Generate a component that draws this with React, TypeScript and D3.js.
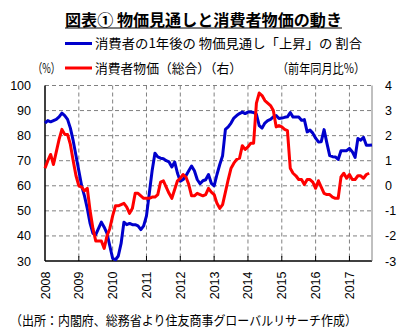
import React from "react";
import * as d3 from "d3";

const years = ["2008", "2009", "2010", "2011", "2012", "2013", "2014", "2015", "2016", "2017"];
const leftTicks = [30, 40, 50, 60, 70, 80, 90, 100];
const rightTicks = [-3, -2, -1, 0, 1, 2, 3, 4];

// 消費者の1年後の物価見通し「上昇」の割合 (%), monthly from 2008-01
const expectation = [
  85, 86, 85.5, 86, 86.5, 87.5, 89, 88, 86.5, 83, 78, 72,
  66, 60, 56, 51, 45, 41, 40.5, 43, 45.5, 43.5, 41, 36,
  31, 30.5, 32, 37, 45.5, 44.5, 45, 44.5, 44.5, 44, 42.5, 44,
  48, 57, 66, 73, 71.5, 71, 70.8, 70, 69.5, 67.5, 69.5, 65,
  61.8, 62.5, 64, 66, 67.9, 66, 62.5, 60.8, 62, 62.4, 64.5, 61,
  60, 64.5, 68.5, 72, 82.5, 83.5, 85, 87, 88, 88.8, 89.4, 88.8,
  89.4, 89.4, 89.2, 88.5, 84, 83, 85, 86, 86.5, 87.5, 88, 86.8,
  87, 87.3, 87.5, 89.2, 87.4, 87.4, 87.4, 86.1, 86.4, 81.5, 82.2, 81,
  79, 77.5, 77.6, 82.4, 77, 72, 71.6, 71.5, 70.5, 74, 74, 74,
  74.9, 73.6, 71.3, 78.9, 78.2, 79.3, 76.2, 76.2, 76.3,
];

// 消費者物価（総合）前年同月比 (%), monthly from 2008-01
const cpi = [
  0.7, 1.0, 1.25, 0.85, 1.35, 1.85, 2.25, 2.05, 2.05, 1.65, 1.0, 0.4,
  0.0, -0.05, -0.2, -0.1, -1.0, -1.7, -2.2, -2.2, -2.2, -2.5, -2.0, -1.7,
  -1.2, -0.8, -0.8, -0.75, -0.7, -0.85, -1.1, -0.9, -0.3, -0.3, -0.4, -0.5,
  -0.5, -0.5, -0.45, -0.45, -0.35, 0.15, 0.2, -0.05, -0.3, -0.5, -0.15, 0.2,
  0.3, 0.45, 0.35, 0.05, -0.4, -0.4, -0.3, -0.35, -0.4, -0.35, -0.1, -0.25,
  -0.35, -0.7, -0.9, -0.75, -0.25, 0.25, 0.7, 0.9, 1.05, 1.1, 1.6, 1.45,
  1.55, 1.7, 1.7, 3.3, 3.7, 3.6, 3.4, 3.3, 3.2, 3.0, 2.35, 2.4,
  2.35, 2.25, 2.2, 0.7, 0.5, 0.4, 0.25, 0.25, 0.05, 0.25, 0.25, 0.15,
  -0.1, 0.2, -0.05, -0.3, -0.35, -0.35, -0.45, -0.5, -0.5, 0.35, 0.5, 0.3,
  0.45, 0.25, 0.25, 0.4, 0.4, 0.3, 0.45, 0.5,
];

const W = 407;
const H = 329;
const L = 45, R = 372, T = 85.5, B = 261;
const CJK = "'Noto Sans CJK JP', 'Noto Sans', sans-serif";
const NUM = "'Liberation Sans', Arial, sans-serif";

export default function App() {
  const x = d3.scaleLinear().domain([0, 116]).range([L, R]);
  const yL = d3.scaleLinear().domain([30, 100]).range([B, T]);
  const yR = d3.scaleLinear().domain([-3, 4]).range([B, T]);

  const lineL = d3.line<number>().x((_, i) => x(i)).y((d) => yL(d));
  const lineR = d3.line<number>().x((_, i) => x(i)).y((d) => yR(d));

  return (
    <svg width={W} height={H} style={{ position: "absolute", left: 0, top: 0, background: "#fff" }}>
      <rect x={0} y={0} width={W} height={H} fill="#fff" />
      {/* title */}
      <text x={65} y={25.5} fontFamily={CJK} fontWeight="bold" fontSize={16} textLength={277} lengthAdjust="spacingAndGlyphs" fill="#000">
        図表①  物価見通しと消費者物価の動き
      </text>
      <line x1={65} x2={342} y1={28} y2={28} stroke="#000" strokeWidth={1} />

      {/* legend */}
      <line x1={65} x2={92} y1={43.5} y2={43.5} stroke="#0000cc" strokeWidth={3} />
      <text x={95} y={48} fontFamily={CJK} fontSize={13} textLength={267} lengthAdjust="spacingAndGlyphs" fill="#000">
        消費者の1年後の 物価見通し「上昇」の 割合
      </text>
      <line x1={65} x2={92} y1={68} y2={68} stroke="#ff0000" strokeWidth={3} />
      <text x={95} y={72.5} fontFamily={CJK} fontSize={13} textLength={147} lengthAdjust="spacingAndGlyphs" fill="#000">
        消費者物価（総合）（右）
      </text>
      <text x={33} y={72.5} fontFamily={CJK} fontSize={13} textLength={27} lengthAdjust="spacingAndGlyphs" fill="#000">
        （%）
      </text>
      <text x={277} y={72.5} fontFamily={CJK} fontSize={13} textLength={88} lengthAdjust="spacingAndGlyphs" fill="#000">
        （前年同月比%）
      </text>

      {/* grid */}
      {leftTicks.filter((t) => t !== 30).map((t) => (
        <line key={"h" + t} x1={L} x2={R} y1={yL(t)} y2={yL(t)} stroke="#808080" strokeWidth={1} strokeDasharray="4,3" />
      ))}
      {years.slice(1).map((_, k) => (
        <line key={"v" + k} x1={x((k + 1) * 12)} x2={x((k + 1) * 12)} y1={T} y2={B} stroke="#808080" strokeWidth={1} strokeDasharray="4,3" />
      ))}
      {years.slice(1).map((_, k) => (
        <line key={"t" + k} x1={x((k + 1) * 12)} x2={x((k + 1) * 12)} y1={B - 5} y2={B} stroke="#000" strokeWidth={1} />
      ))}
      {/* axes */}
      <line x1={L} x2={L} y1={T} y2={B} stroke="#000" strokeWidth={1.5} />
      <line x1={L} x2={R} y1={B} y2={B} stroke="#000" strokeWidth={1.5} />
      <line x1={R} x2={R} y1={T} y2={B} stroke="#808080" strokeWidth={1} />

      {/* tick labels */}
      {leftTicks.map((t) => (
        <text key={"l" + t} x={31} y={yL(t) + 4.5} textAnchor="end" fontFamily={NUM} fontSize={12.5} fill="#000">
          {t}
        </text>
      ))}
      {rightTicks.map((t) => (
        <text key={"r" + t} x={385} y={yR(t) + 4.5} textAnchor="start" fontFamily={NUM} fontSize={12.5} fill="#000">
          {t}
        </text>
      ))}
      {years.map((yr, k) => (
        <text key={"y" + yr} transform={`translate(${x(k * 12) + 4.5},271.5) rotate(-90)`} textAnchor="end" fontFamily={NUM} fontSize={12.5} fill="#000">
          {yr}
        </text>
      ))}

      {/* series */}
      <path d={lineL(expectation) || ""} fill="none" stroke="#0000cc" strokeWidth={3} strokeLinejoin="round" />
      <path d={lineR(cpi) || ""} fill="none" stroke="#ff0000" strokeWidth={3} strokeLinejoin="round" />

      {/* source */}
      <text x={10} y={325} fontFamily={CJK} fontSize={13} textLength={347} lengthAdjust="spacingAndGlyphs" fill="#000">
        （出所：内閣府、総務省より住友商事グローバルリサーチ作成）
      </text>
    </svg>
  );
}
